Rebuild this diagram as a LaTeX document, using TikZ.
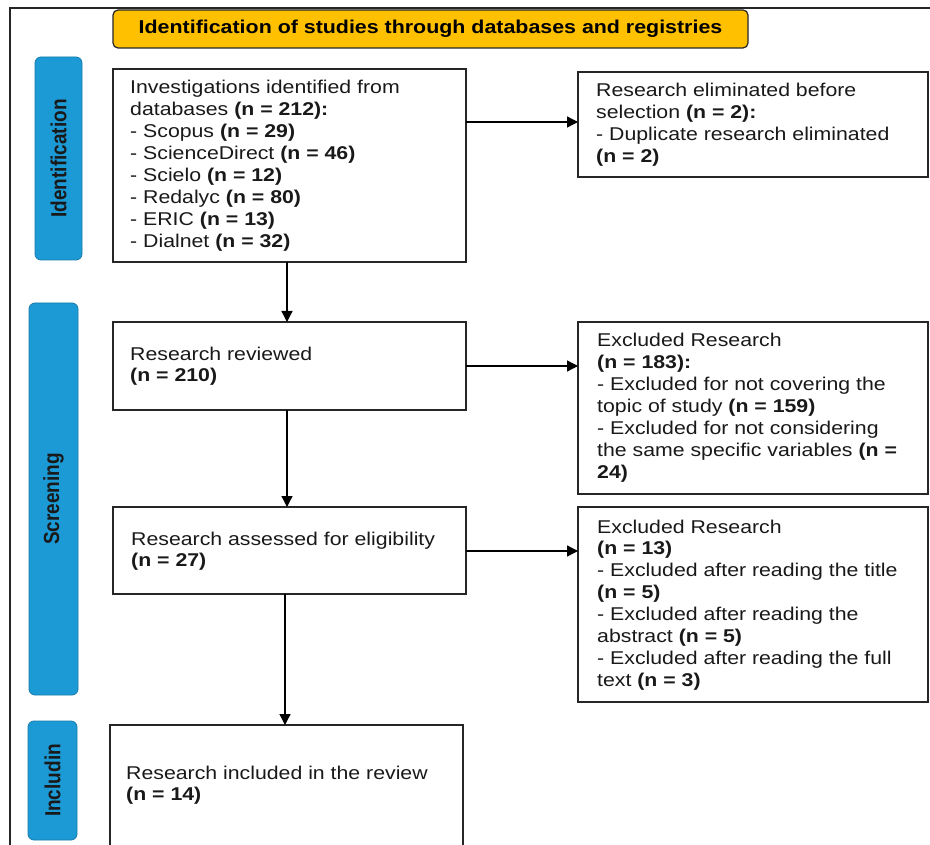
\documentclass[tikz,border=0pt]{standalone}
\usepackage{fontspec}
\setmainfont{Liberation Sans}[FakeStretch=1.15]
\newfontfamily\sidefont{Liberation Sans}
\usetikzlibrary{arrows.meta}
\definecolor{hdr}{HTML}{FFC000}
\definecolor{sidec}{HTML}{1C9AD6}
\definecolor{linec}{HTML}{262626}
\newcommand{\nb}[1]{\textbf{#1}}
\newcommand{\tb}[2]{\parbox[t]{#1}{\raggedright #2}}
\begin{document}
\begin{tikzpicture}[x=1pt,y=-1pt,
  box/.style={draw=linec, line width=1.1pt, fill=white, inner sep=0pt, outer sep=0pt},
  sidebox/.style={draw=sidec!80!black, fill=sidec, rounded corners=6pt, line width=0.8pt, inner sep=0pt, outer sep=0pt},
  txt/.style={anchor=base west, inner sep=0pt, text=black!90, font=\fontsize{18.5}{21.9}\selectfont},
  sidetxt/.style={rotate=90, inner sep=0pt, text=black!90, font=\sidefont\bfseries\fontsize{19}{22}\selectfont},
  arr/.style={-{Triangle[length=11pt,width=11pt]}, line width=1.3pt, draw=black}]
\useasboundingbox (0,0) rectangle (930,845);
\clip (0,0) rectangle (930,845);
\fill[white] (0,0) rectangle (930,845);
% outer frame
\draw[linec, line width=1.2pt] (10,850) -- (10,8) -- (935,8);
% header
\node[draw=linec, fill=hdr, rounded corners=5pt, line width=1.2pt, minimum width=635pt, minimum height=38pt, inner sep=0pt,
      font=\bfseries\fontsize{18.6}{22}\selectfont] (hdr) at (430.5,29) {Identification of studies through databases and registries};
% side labels
\node[sidebox, minimum width=47pt, minimum height=203pt] (s1) at (58.5,158.5) {};
\node[sidetxt] (s1t) at (s1.center) {\scalebox{1}[1.15]{Identification}};
\node[sidebox, minimum width=49pt, minimum height=392pt] (s2) at (53.5,499) {};
\node[sidetxt] (s2t) at (s2.center) {\scalebox{1}[1.15]{Screening}};
\node[sidebox, minimum width=49pt, minimum height=119pt] (s3) at (52.5,780.5) {};
\node[sidetxt] (s3t) at (s3.center) {\scalebox{1}[1.15]{Includin}};
% boxes
\node[box, minimum width=353pt, minimum height=193pt] (b1) at (289.5,165.5) {};
\node[box, minimum width=350pt, minimum height=105pt] (b2) at (753,124.5) {};
\node[box, minimum width=353pt, minimum height=88pt] (b3) at (289.5,366) {};
\node[box, minimum width=350pt, minimum height=172pt] (b4) at (753,408) {};
\node[box, minimum width=353pt, minimum height=87pt] (b5) at (289.5,550.5) {};
\node[box, minimum width=350pt, minimum height=195pt] (b6) at (753,604.5) {};
\node[box, minimum width=353pt, minimum height=145pt] (b7) at (286.5,797.5) {};
% texts
\node[txt] (t1) at (130,94) {\tb{335pt}{Investigations identified from\\
databases \nb{(n = 212):}\\
- Scopus \nb{(n = 29)}\\
- ScienceDirect \nb{(n = 46)}\\
- Scielo \nb{(n = 12)}\\
- Redalyc \nb{(n = 80)}\\
- ERIC \nb{(n = 13)}\\
- Dialnet \nb{(n = 32)}}};
\node[txt] (t2) at (596,97) {\tb{330pt}{Research eliminated before\\
selection \nb{(n = 2):}\\
- Duplicate research eliminated\\
\nb{(n = 2)}}};
\node[txt] (t3) at (130,360) {\tb{330pt}{Research reviewed\\
\nb{(n = 210)}}};
\node[txt] (t4) at (597,347) {\tb{330pt}{Excluded Research\\
\nb{(n = 183):}\\
- Excluded for not covering the\\
topic of study \nb{(n = 159)}\\
- Excluded for not considering\\
the same specific variables \nb{(n =}\\
\nb{24)}}};
\node[txt] (t5) at (131,545) {\tb{330pt}{Research assessed for eligibility\\
\nb{(n = 27)}}};
\node[txt] (t6) at (597,533) {\tb{330pt}{Excluded Research\\
\nb{(n = 13)}\\
- Excluded after reading the title\\
\nb{(n = 5)}\\
- Excluded after reading the\\
abstract \nb{(n = 5)}\\
- Excluded after reading the full\\
text \nb{(n = 3)}}};
\node[txt] (t7) at (126,779) {\tb{330pt}{Research included in the review\\
\nb{(n = 14)}}};
% connectors
\draw[arr] (b1.east |- 0,122) -- (b2.west |- 0,122);
\draw[arr] (b1.south -| 287,0) -- (b3.north -| 287,0);
\draw[arr] (b3.east) -- (b3.east -| b4.west);
\draw[arr] (b3.south -| 287,0) -- (b5.north -| 287,0);
\draw[arr] (b5.east |- 0,551) -- (b6.west |- 0,551);
\draw[arr] (b5.south -| 285,0) -- (b7.north -| 285,0);
\end{tikzpicture}
\end{document}
